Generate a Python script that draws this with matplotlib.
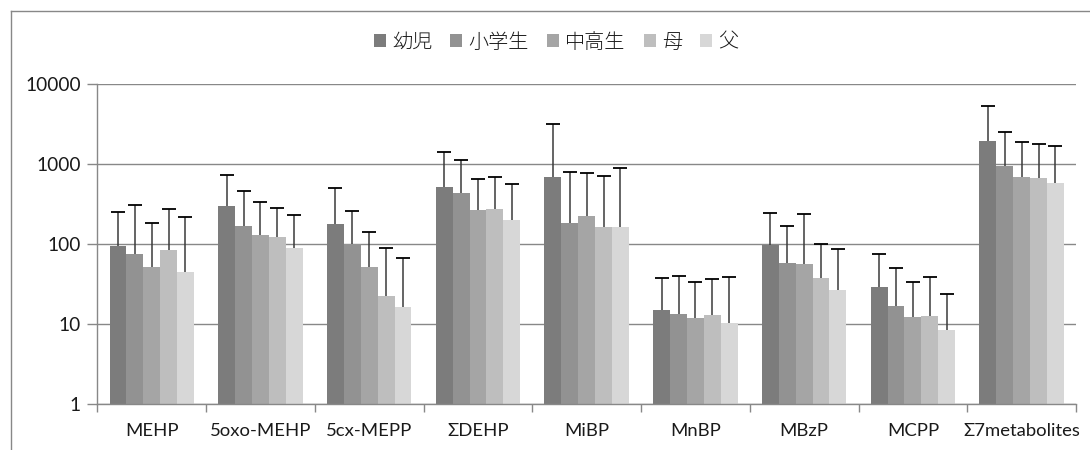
import matplotlib.pyplot as plt
import numpy as np
from matplotlib.patches import Patch
from matplotlib.lines import Line2D

plt.rcParams['font.family'] = ['Lato', 'DejaVu Sans']

# metabolite concentrations: geometric mean and SD per group
metabolites = ['MEHP', '5oxo-MEHP', '5cx-MEPP', 'ΣDEHP', 'MiBP', 'MnBP', 'MBzP', 'MCPP', 'Σ7metabolites']
groups = ['幼児', '小学生', '中高生', '母', '父']

mean_infant = [94, 302, 178, 522, 684, 14.9, 97, 29.2, 1950]
mean_elem = [76, 168, 99, 431, 182, 13.3, 57, 16.7, 948]
mean_junior = [51, 130, 51, 269, 226, 11.8, 56, 12.1, 684]
mean_mother = [84, 122, 22.3, 277, 165, 12.9, 37, 12.5, 665]
mean_father = [45, 89, 16.3, 200, 165, 10.2, 26.8, 8.3, 581]

sd_infant = [160, 423, 329, 885, 2529, 22.9, 148, 46.4, 3450]
sd_elem = [232, 297, 162, 706, 623, 26.4, 110, 33.8, 1582]
sd_junior = [131, 203, 89, 389, 556, 21.6, 184, 21.0, 1209]
sd_mother = [190, 163, 67.7, 420, 539, 23.9, 64, 26.1, 1122]
sd_father = [171, 142, 50.7, 358, 722, 28.4, 60.2, 15.2, 1105]

means = [mean_infant, mean_elem, mean_junior, mean_mother, mean_father]
sds = [sd_infant, sd_elem, sd_junior, sd_mother, sd_father]
colors = ['#7c7c7c', '#929292', '#a5a5a5', '#bebebe', '#d7d7d7']

fig = plt.figure(figsize=(10.9, 4.5), dpi=100)
ax = fig.add_axes([0.0893, 0.1029, 0.8979, 0.7098])

x = np.arange(len(metabolites))
n = len(groups)
group_w = 0.776
w = group_w / n

for i in range(n):
    xi = x - group_w / 2 + w * (i + 0.5)
    m = np.array(means[i])
    top = m + np.array(sds[i])
    ax.bar(xi, m, width=w, bottom=0.0001, color=colors[i], edgecolor='none', zorder=2)
    ax.vlines(xi, m, top, color='#3a3a3a', linewidth=1.1, zorder=3)
    ax.plot(xi, top, ls='none', marker='_', ms=9.5, mew=1.3, color='black', zorder=3)

ax.set_yscale('log')
ax.set_ylim(1, 10000)
ax.set_xlim(-0.5, len(metabolites) - 0.5)
ax.set_yticks([1, 10, 100, 1000, 10000])
ax.set_yticklabels(['1', '10', '100', '1000', '10000'])
ax.minorticks_off()
ax.yaxis.grid(True, color='#888888', linewidth=1)
ax.set_axisbelow(True)

# category ticks sit between groups, labels centered under groups
ax.set_xticks(np.arange(len(metabolites) + 1) - 0.5)
ax.set_xticklabels([])
ax.set_xticks(x, minor=True)
ax.set_xticklabels(metabolites, minor=True)
ax.tick_params(axis='x', which='major', length=6, color='#888888', width=1)
ax.tick_params(axis='x', which='minor', length=0, pad=14, labelsize=13.3, labelcolor='#1a1a1a')
ax.tick_params(axis='y', length=7, color='#888888', width=1, pad=5, labelsize=13.8, labelcolor='#1a1a1a')

for s in ['top', 'right']:
    ax.spines[s].set_visible(False)
for s in ['left', 'bottom']:
    ax.spines[s].set_color('#888888')
    ax.spines[s].set_linewidth(1)

handles = [Patch(facecolor=c, edgecolor='none') for c in colors]
fig.legend(handles, groups, loc='center', bbox_to_anchor=(556 / 1090, 1 - 42 / 450), ncol=5,
           frameon=False, handlelength=0.6, handleheight=0.6, handletextpad=0.3,
           columnspacing=0.9, labelcolor='#1a1a1a',
           prop={'family': ['Noto Sans CJK JP'], 'size': 14.5, 'weight': 'light'})

# chart area border
fig.add_artist(Line2D([10.5 / 1090, 1.0], [1 - 10.5 / 450, 1 - 10.5 / 450],
                      transform=fig.transFigure, color='#888888', linewidth=1))
fig.add_artist(Line2D([10.5 / 1090, 10.5 / 1090], [0.0, 1 - 10.5 / 450],
                      transform=fig.transFigure, color='#888888', linewidth=1))

plt.savefig('out.png', dpi=100)
